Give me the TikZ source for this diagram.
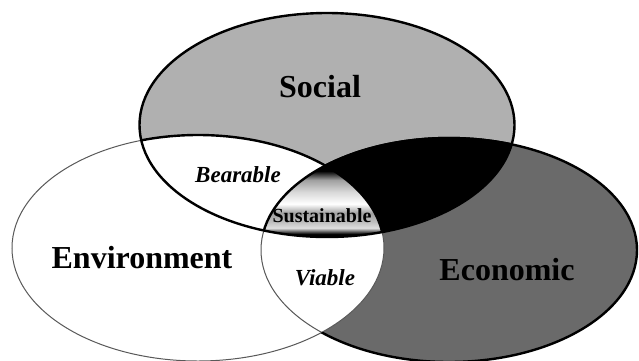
\documentclass[tikz,border=0pt]{standalone}
\usepackage{fontspec}
\setmainfont{Liberation Serif}
\pgfdeclareverticalshading{domeshade}{100bp}{color(0bp)=(black); color(25bp)=(black); color(29bp)=(black); color(33bp)=(gray!25); color(37bp)=(gray!50); color(43bp)=(gray!75); color(49bp)=(white); color(57bp)=(gray!30); color(65bp)=(gray!75); color(71bp)=(black); color(100bp)=(black)}
\definecolor{socgray}{HTML}{B0B0B0}
\definecolor{ecogray}{HTML}{6A6A6A}
\def\Soc{(327,125) ellipse [x radius=187.5pt, y radius=112pt]}
\def\Env{(198,248) ellipse [x radius=186pt, y radius=113pt]}
\def\Eco{(449,250) ellipse [x radius=188pt, y radius=112pt]}
\tikzset{
  bigtext/.style={font=\fontsize{32}{32}\selectfont\bfseries, inner sep=0pt},
  smalltext/.style={font=\fontsize{23}{23}\selectfont\bfseries\itshape, inner sep=0pt},
  thickline/.style={line width=2.4pt, black},
  thinline/.style={line width=1pt, black!65}
}
\begin{document}
\begin{tikzpicture}[x=1pt, y=-1pt]
\useasboundingbox (0,0) rectangle (639,360);
\fill[white] (0,0) rectangle (639,360);
% region fills
\fill[socgray] \Soc;
\fill[ecogray] \Eco;
\begin{scope}
  \clip \Env;
  \fill[white] \Soc;
  \fill[white] \Eco;
\end{scope}
\begin{scope}
  \clip \Soc;
  \fill[black] \Eco;
\end{scope}
\begin{scope}
  \clip \Soc;
  \clip \Eco;
  \clip \Env;
  \shade[shading=domeshade] (255,165) rectangle (395,240);
\end{scope}
% outlines
\draw[thinline] \Env;
\draw[thinline] \Eco;
\begin{scope}
  \clip \Soc;
  \draw[thickline] \Env;
  \draw[thickline] \Eco;
\end{scope}
\begin{scope}[even odd rule]
  \clip (650,370) rectangle (-10,-10) \Env;
  \draw[thickline] \Eco;
\end{scope}
\draw[thickline] \Soc;
% labels
\node[bigtext] (social) at (320,87) {Social};
\node[bigtext] (environment) at (142,258) {Environment};
\node[bigtext] (economic) at (507,270) {Economic};
\node[smalltext] (bearable) at (238,175) {Bearable};
\node[smalltext] (viable) at (325,278) {Viable};
\node[font=\fontsize{20}{20}\selectfont\bfseries, inner sep=0pt] (sustainable) at (322,216) {Sustainable};
\end{tikzpicture}
\end{document}
